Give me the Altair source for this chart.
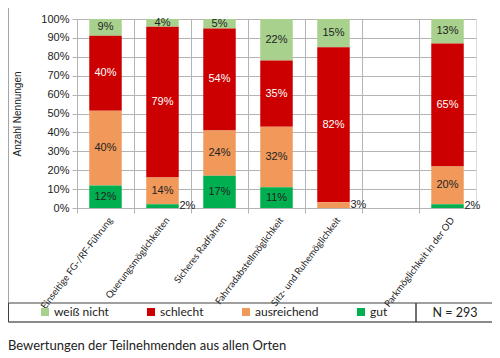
import altair as alt
import pandas as pd

categories = ["Einseitige FG-/RF-Führung", "Querungsmöglichkeiten", "Sicheres Radfahren",
              "Fahrradabstellmöglichkeit", "Sitz- und Ruhemöglichkeit", "Parkmöglichkeit in der OD"]
x_domain = categories[:5] + [" "] + categories[5:]
weiss_nicht = [9, 4, 5, 22, 15, 13]
schlecht = [40, 79, 54, 35, 82, 65]
ausreichend = [40, 14, 24, 32, 3, 20]
gut = [12, 2, 17, 11, 0, 2]
y_ticks = [0, 0.1, 0.2, 0.3, 0.4, 0.5, 0.6, 0.7, 0.8, 0.9, 1.0]

series_names = ["weiß nicht", "schlecht", "ausreichend", "gut"]
series_colors = ["#a9d18e", "#cc0000", "#f0995a", "#00b050"]
stack_order = {"gut": 0, "ausreichend": 1, "schlecht": 2, "weiß nicht": 3}

rows = []
for name, vals in zip(series_names, [weiss_nicht, schlecht, ausreichend, gut]):
    for c, v in zip(categories, vals):
        rows.append({"cat": c, "series": name, "value": v, "order": stack_order[name]})
df = pd.DataFrame(rows)

font_axis = "Liberation Sans"
font_ui = "Lato"
grid_col = "#b4b4b4"

base = alt.Chart(df).transform_stack(
    stack="value", groupby=["cat"], as_=["y0", "y1"],
    sort=[alt.SortField("order", "ascending")], offset="normalize"
).transform_calculate(
    mid="(datum.y0 + datum.y1) / 2", label="datum.value + '%'"
)

xscale = alt.Scale(domain=x_domain, paddingInner=0, paddingOuter=0)
x_axis = alt.Axis(title=None, labelAngle=-53, labelFont=font_ui, labelFontSize=9.5,
                  labelColor="#222", bandPosition=0, grid=True, gridColor=grid_col,
                  tickColor=grid_col, tickSize=5, domainColor=grid_col, labelPadding=5,
                  labelOffset=5, labelLimit=200)
yscale = alt.Scale(domain=[0, 1], nice=False)
y_axis = alt.Axis(title="Anzahl Nennungen", format=".0%", values=y_ticks,
                  labelOverlap=False,
                  labelFont=font_axis, labelFontSize=11, labelColor="#222",
                  titleFont=font_axis, titleFontSize=10, titleFontWeight="normal",
                  titleColor="#222", titleX=-55, titleY=94.5, titleAngle=270,
                  titleAlign="center", titleBaseline="bottom",
                  grid=True, gridColor=grid_col, tickColor=grid_col, tickSize=5,
                  domainColor=grid_col, labelPadding=3)

bars = base.mark_bar(width=alt.RelativeBandSize(0.57)).encode(
    x=alt.X("cat:N", scale=xscale, axis=x_axis),
    y=alt.Y("y0:Q", scale=yscale, axis=y_axis),
    y2="y1:Q",
    color=alt.Color("series:N", scale=alt.Scale(domain=series_names, range=series_colors),
                    legend=alt.Legend(title=None, orient="none", legendX=-38, legendY=287,
                                      direction="horizontal", symbolType="square",
                                      symbolSize=64, symbolStrokeWidth=0, labelFont=font_ui,
                                      labelFontSize=12, labelColor="#222", columnPadding=36,
                                      gridAlign="each", labelOffset=3)),
)

text_in = base.transform_filter("datum.value > 3").mark_text(
    font=font_axis, fontSize=11, baseline="middle", align="center"
).encode(
    x=alt.X("cat:N", scale=xscale, axis=x_axis),
    y=alt.Y("mid:Q", scale=yscale, axis=y_axis),
    text="label:N",
    color=alt.condition("datum.series == 'schlecht'", alt.value("white"), alt.value("#222")),
)

text_out = base.transform_filter("datum.value > 0 && datum.value <= 3").mark_text(
    font=font_axis, fontSize=11, baseline="middle", align="left", dx=17, color="#222"
).encode(
    x=alt.X("cat:N", scale=xscale, axis=x_axis),
    y=alt.Y("mid:Q", scale=yscale, axis=y_axis),
    text="label:N",
)

one = pd.DataFrame({"k": [0]})
outer = alt.Chart(one).mark_rect(fill=None, stroke="#a6a6a6", strokeWidth=1).encode(
    x=alt.value(-68.5), x2=alt.value(418), y=alt.value(-16), y2=alt.value(303))
legbox = alt.Chart(one).mark_rect(fill=None, stroke="#404040", strokeWidth=1).encode(
    x=alt.value(-68.5), x2=alt.value(339), y=alt.value(284), y2=alt.value(303))
nbox = alt.Chart(one).mark_rect(fill=None, stroke="#404040", strokeWidth=1).encode(
    x=alt.value(339), x2=alt.value(418), y=alt.value(284), y2=alt.value(303))
ntext = alt.Chart(pd.DataFrame({"t": ["N = 293"]})).mark_text(
    font=font_ui, fontSize=12.5, align="center", baseline="middle", color="#222"
).encode(x=alt.value(378), y=alt.value(293.5), text="t:N")
caption = alt.Chart(pd.DataFrame({"t": ["Bewertungen der Teilnehmenden aus allen Orten"]})).mark_text(
    font=font_ui, fontSize=13, align="left", baseline="alphabetic", color="#222"
).encode(x=alt.value(-69), y=alt.value(331), text="t:N")

chart = alt.layer(outer, bars, text_in, text_out, legbox, nbox, ntext, caption).properties(
    width=399, height=189,
    autosize=alt.AutoSizeParams(type="none"),
    padding={"left": 69, "top": 11, "right": 16, "bottom": 150},
).configure_view(stroke=grid_col, strokeWidth=1).configure(background="white")

chart.save("out.html", embed_options={"renderer": "svg", "actions": False})
